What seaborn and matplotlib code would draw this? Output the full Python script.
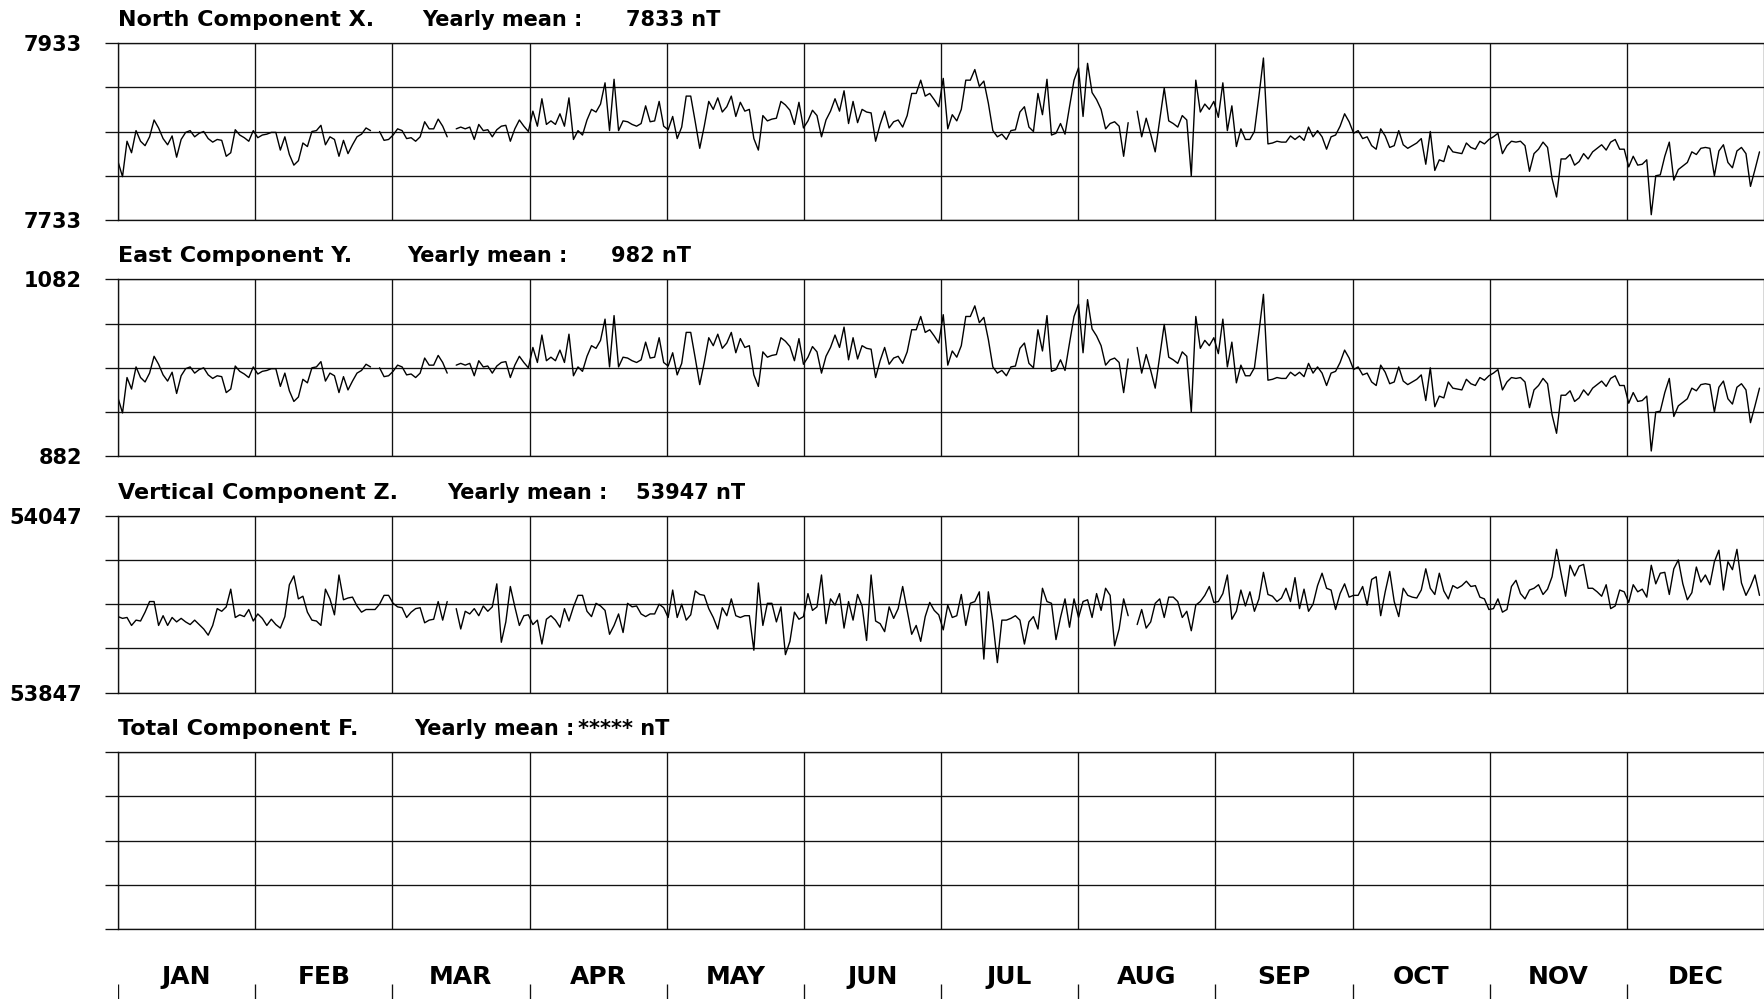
import numpy as np
import pandas as pd
import matplotlib
matplotlib.use("Agg")
import matplotlib.pyplot as plt
import seaborn as sns

# ---------------------------------------------------------------------------
# Daily mean values, expressed as offsets (nT) from each component's yearly mean.
# None marks a day without data.
# ---------------------------------------------------------------------------
months = ["JAN", "FEB", "MAR", "APR", "MAY", "JUN",
          "JUL", "AUG", "SEP", "OCT", "NOV", "DEC"]
n_days = 365

x_mean = 7833
y_mean = 982
z_mean = 53947

x_offsets = [
    -34, -51, -11, -24, 1, -11, -16, -6, 13, 4,
    -8, -15, -5, -29, -9, -1, 1, -6, -2, 0,
    -8, -12, -9, -10, -28, -24, 2, -4, -7, -11,
    1, -7, -4, -3, -1, -1, -21, -6, -26, -38,
    -33, -13, -17, 0, 1, 7, -15, -6, -9, -28,
    -10, -25, -15, -6, -3, 4, 1, None, 0, -10,
    -9, -4, 3, 1, -8, -7, -11, -6, 11, 3,
    3, 14, 6, -6, None, 3, 5, 3, 5, -9,
    8, 1, 2, -6, 2, 6, 7, -11, 3, 13,
    6, 0, 23, 6, 37, 8, 12, 8, 20, 6,
    38, -9, 1, -4, 13, 25, 22, 31, 55, 1,
    59, 1, 12, 11, 8, 6, 9, 29, 11, 12,
    34, 6, 2, 17, -8, 5, 40, 40, 11, -19,
    6, 34, 25, 38, 22, 28, 40, 17, 33, 23,
    25, -8, -21, 18, 12, 14, 15, 34, 30, 24,
    8, 33, 4, 12, 24, 18, -6, 13, 23, 37,
    23, 46, 9, 34, 10, 25, 22, 21, -11, 8,
    23, 4, 11, 13, 5, 18, 43, 43, 58, 40,
    43, 36, 28, 60, 3, 19, 12, 25, 58, 58,
    70, 51, 57, 32, 1, -6, -3, -9, 1, 2,
    22, 28, 5, 0, 43, 19, 59, -4, -2, 9,
    -3, 28, 58, 72, 17, 77, 44, 36, 25, 3,
    9, 11, 6, -28, 10, None, 23, -6, 15, -3,
    -23, 13, 49, 12, 9, 5, 18, 13, -50, 58,
    22, 31, 25, 34, 16, 55, 1, 29, -17, 3,
    -9, -9, 0, 40, 83, -14, -13, -11, -12, -12,
    -5, -9, -5, -10, 5, -6, 1, -6, -20, -6,
    -4, 6, 20, 11, -2, 1, -8, -6, -16, -20,
    3, -5, -18, -16, 1, -15, -19, -16, -13, -8,
    -37, 0, -44, -32, -34, -16, -23, -24, -25, -13,
    -18, -20, -11, -14, -9, -6, -2, -25, -16, -11,
    -12, -11, -16, -45, -25, -20, -12, -18, -53, -74,
    -31, -31, -26, -38, -34, -25, -31, -23, -19, -15,
    -21, -12, -9, -20, -20, -40, -28, -38, -37, -32,
    -94, -50, -49, -28, -12, -55, -43, -39, -35, -23,
    -26, -19, -18, -19, -50, -22, -15, -35, -41, -22,
    -18, -25, -62, -43, -23,
]

y_offsets = [
    -34, -51, -11, -24, 1, -11, -16, -6, 13, 4,
    -8, -15, -5, -29, -9, -1, 1, -6, -2, 0,
    -8, -12, -9, -10, -28, -24, 2, -4, -7, -11,
    1, -7, -4, -3, -1, -1, -21, -6, -26, -38,
    -33, -13, -17, 0, 1, 7, -15, -6, -9, -28,
    -10, -25, -15, -6, -3, 4, 1, None, 0, -10,
    -9, -4, 3, 1, -8, -7, -11, -6, 11, 3,
    3, 14, 6, -6, None, 3, 5, 3, 5, -9,
    8, 1, 2, -6, 2, 6, 7, -11, 3, 13,
    6, 0, 23, 6, 37, 8, 12, 8, 20, 6,
    38, -9, 1, -4, 13, 25, 22, 31, 55, 1,
    59, 1, 12, 11, 8, 6, 9, 29, 11, 12,
    34, 6, 2, 17, -8, 5, 40, 40, 11, -19,
    6, 34, 25, 38, 22, 28, 40, 17, 33, 23,
    25, -8, -21, 18, 12, 14, 15, 34, 30, 24,
    8, 33, 4, 12, 24, 18, -6, 13, 23, 37,
    23, 46, 9, 34, 10, 25, 22, 21, -11, 8,
    23, 4, 11, 13, 5, 18, 43, 43, 58, 40,
    43, 36, 28, 60, 3, 19, 12, 25, 58, 58,
    70, 51, 57, 32, 1, -6, -3, -9, 1, 2,
    22, 28, 5, 0, 43, 19, 59, -4, -2, 9,
    -3, 28, 58, 72, 17, 77, 44, 36, 25, 3,
    9, 11, 6, -28, 10, None, 23, -6, 15, -3,
    -23, 13, 49, 12, 9, 5, 18, 13, -50, 58,
    22, 31, 25, 34, 16, 55, 1, 29, -17, 3,
    -9, -9, 0, 40, 83, -14, -13, -11, -12, -12,
    -5, -9, -5, -10, 5, -6, 1, -6, -20, -6,
    -4, 6, 20, 11, -2, 1, -8, -6, -16, -20,
    3, -5, -18, -16, 1, -15, -19, -16, -13, -8,
    -37, 0, -44, -32, -34, -16, -23, -24, -25, -13,
    -18, -20, -11, -14, -9, -6, -2, -25, -16, -11,
    -12, -11, -16, -45, -25, -20, -12, -18, -53, -74,
    -31, -31, -26, -38, -34, -25, -31, -23, -19, -15,
    -21, -12, -9, -20, -20, -40, -28, -38, -37, -32,
    -94, -50, -49, -28, -12, -55, -43, -39, -35, -23,
    -26, -19, -18, -19, -50, -22, -15, -35, -41, -22,
    -18, -25, -62, -43, -23,
]

z_offsets = [
    -14, -16, -15, -24, -18, -19, -9, 3, 3, -24,
    -13, -24, -15, -20, -16, -20, -23, -18, -23, -28,
    -35, -24, -5, -8, -3, 17, -15, -12, -14, -6,
    -19, -11, -16, -24, -17, -23, -27, -14, 22, 32,
    6, 9, -9, -18, -19, -24, 17, 6, -12, 33,
    5, 7, 8, -2, -9, -6, -6, -6, 0, 10,
    10, 1, -3, -4, -15, -9, -5, -4, -21, -18,
    -17, 3, -18, 3, None, -5, -28, -8, -11, -5,
    -13, -2, -8, -3, 23, -43, -20, 20, -3, -24,
    -13, -12, -23, -18, -45, -17, -13, -18, -26, -5,
    -19, -3, 10, 10, -8, -14, 1, -2, -7, -34,
    -24, -11, -32, 1, -3, -2, -11, -14, -11, -11,
    0, -4, -15, 16, -15, 0, -18, -12, 15, 11,
    10, -5, -15, -28, -4, -13, 6, -13, -15, -13,
    -13, -52, 24, -24, 1, 1, -20, -3, -57, -42,
    -9, -17, -14, 12, -7, -3, 33, -22, 6, -1,
    12, -27, 3, -18, 11, -2, -41, 33, -19, -22,
    -31, -3, -16, -5, 20, -7, -34, -24, -42, -14,
    2, -7, -12, -29, -1, -15, -13, 11, -24, 1,
    3, 14, -62, 14, -20, -66, -18, -18, -16, -13,
    -18, -45, -20, -14, -28, 18, 3, 1, -40, -15,
    6, -26, 6, -15, 3, 5, -15, 12, -7, 18,
    10, -47, -28, 6, -13, None, -23, -6, -27, -20,
    1, 6, -15, 8, 8, 3, -15, -8, -30, -1,
    3, 10, 20, 2, 3, 12, 33, -17, -8, 16,
    -2, 14, -8, 6, 36, 11, 9, 3, 7, 18,
    3, 30, -5, 17, -8, 0, 21, 35, 18, 16,
    -6, 12, 23, 8, 10, 10, 20, -1, 28, 31,
    -13, 14, 37, 3, -14, 18, 10, 8, 7, 16,
    40, 18, 11, 35, 15, 6, 21, 18, 21, 26,
    20, 21, 8, 6, -6, -5, 6, -9, -6, 20,
    27, 12, 6, 16, 18, 22, 11, 17, 31, 62,
    35, 9, 44, 32, 43, 45, 18, 18, 14, 9,
    22, -5, -2, 16, 14, 2, 22, 14, 17, 8,
    44, 23, 35, 36, 11, 40, 50, 23, 5, 13,
    42, 25, 33, 22, 48, 61, 16, 48, 39, 62,
    24, 10, 20, 33, 10,
]

# Panel definitions: component name, yearly mean text, baseline, offsets
panels = [
    ("North Component X.", "7833 nT", x_mean, x_offsets),
    ("East Component Y.", "982 nT", y_mean, y_offsets),
    ("Vertical Component Z.", "53947 nT", z_mean, z_offsets),
    ("Total Component F.", "***** nT", None, None),
]
grid_steps = [-100, -50, 0, 50, 100]

# ---------------------------------------------------------------------------
sns.set_theme(style="white")
plt.rcParams["font.family"] = ["DejaVu Sans"]
plt.rcParams["font.weight"] = "bold"
plt.rcParams["text.color"] = "black"

W, H = 1764, 999
DPI = 100
fig = plt.figure(figsize=(W / DPI, H / DPI), dpi=DPI, facecolor="white")

left_px = 118
panel_h = 177
panel_tops = [43, 279.3, 515.7, 752]
yearly_x = [422, 407, 447, 414]
value_x = [626, 611, 636, 578]

line_col = "#111111"
grid_lw = 0.95
px = 72.0 / DPI  # points per pixel
name_size = 16
mean_size = 15

month_edges = np.arange(13) * n_days / 12.0

for i, (name, mean_txt, base, offs) in enumerate(panels):
    top = panel_tops[i]
    ax = fig.add_axes([left_px / W, 1 - (top + panel_h) / H,
                       (W - left_px) / W, panel_h / H])
    b = base if base is not None else 0
    ax.set_xlim(0, n_days)
    ax.set_ylim(b - 100, b + 100)

    if offs is not None:
        vals = np.array([np.nan if v is None else b + v for v in offs], dtype=float)
        seg = np.cumsum(np.isnan(vals))
        df = pd.DataFrame({"day": np.arange(n_days), "value": vals, "segment": seg})
        df = df.dropna()
        sns.lineplot(data=df, x="day", y="value", units="segment", estimator=None,
                     color="black", linewidth=1.0, ax=ax, legend=False,
                     sort=True)

    ax.set_xlabel("")
    ax.set_ylabel("")
    ax.set_xticks(month_edges)
    ax.tick_params(axis="x", length=0, labelbottom=False)
    ticks = [b + s for s in grid_steps]
    ax.set_yticks(ticks)
    if base is not None:
        labels = [str(ticks[0]), "", "", "", str(ticks[-1])]
    else:
        labels = [""] * 5
    ax.set_yticklabels(labels)
    ax.tick_params(axis="y", left=True, length=13 * px, width=grid_lw,
                   color=line_col, pad=23 * px, labelsize=15,
                   labelcolor="black")
    for lab in ax.get_yticklabels():
        lab.set_fontweight("bold")
    ax.grid(True, color=line_col, linewidth=grid_lw)
    ax.set_axisbelow(True)
    for side in ["top", "bottom", "left"]:
        ax.spines[side].set_visible(True)
        ax.spines[side].set_color(line_col)
        ax.spines[side].set_linewidth(grid_lw)
    ax.spines["right"].set_visible(False)
    ax.set_facecolor("white")

    ty = 1 - (top - 23) / H
    fig.text(left_px / W, ty, name, ha="left", va="center", color="black",
             fontsize=name_size, fontweight="bold")
    fig.text(yearly_x[i] / W, ty, "Yearly mean :", ha="left", va="center",
             color="black", fontsize=mean_size, fontweight="bold")
    fig.text(value_x[i] / W, ty, mean_txt, ha="left", va="center",
             color="black", fontsize=mean_size, fontweight="bold")

# Month names and separators along the bottom
bax = fig.add_axes([left_px / W, 0, (W - left_px) / W, 60 / H])
bax.set_xlim(0, n_days)
bax.set_ylim(0, 60)
bax.axis("off")
centers = (month_edges[:-1] + month_edges[1:]) / 2
for c, m in zip(centers, months):
    bax.text(c, 22, m, ha="center", va="center", fontsize=18,
             fontweight="bold", color="black")
bax.vlines(month_edges[:-1], 0, 15, color=line_col, linewidth=grid_lw)

fig.savefig("out.png", dpi=DPI, facecolor="white")
